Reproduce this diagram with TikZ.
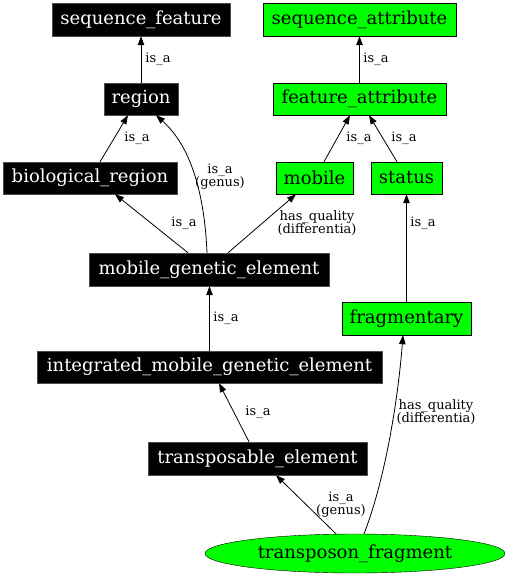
\documentclass[tikz,border=0pt]{standalone}
\usepackage{fontspec}
\setmainfont{DejaVu Serif}
\usetikzlibrary{arrows.meta,shapes.geometric}
\definecolor{vgreen}{RGB}{0,255,0}
\tikzset{
  blk/.style={rectangle, fill=black, draw=black!70, text=white, inner sep=0pt, font=\fontsize{18}{20}\selectfont},
  grn/.style={rectangle, fill=vgreen, draw=black, text=black, inner sep=0pt, font=\fontsize{18}{20}\selectfont},
  lbl/.style={inner sep=0pt, align=center, font=\fontsize{13}{13}\selectfont},
  edge/.style={draw=black, line width=0.8pt, -{Triangle[length=9pt,width=6.5pt]}},
}
\begin{document}
\begin{tikzpicture}[x=1pt,y=-1pt]
\useasboundingbox (0,0) rectangle (508,576);
% nodes
\node[blk, minimum width=178pt, minimum height=33pt] (sf) at (141,19.5) {sequence\_feature};
\node[grn, minimum width=193pt, minimum height=33pt] (sa) at (359.5,19.5) {sequence\_attribute};
\node[blk, minimum width=74pt, minimum height=32pt] (region) at (141,99) {region};
\node[grn, minimum width=173pt, minimum height=32pt] (fa) at (359.5,99) {feature\_attribute};
\node[blk, minimum width=174pt, minimum height=32pt] (bio) at (90,178) {biological\_region};
\node[grn, minimum width=77pt, minimum height=32pt] (mobile) at (314.5,178) {mobile};
\node[grn, minimum width=71pt, minimum height=32pt] (status) at (406.5,178) {status};
\node[blk, minimum width=240pt, minimum height=33pt] (mge) at (209,269.5) {mobile\_genetic\_element};
\node[grn, minimum width=129pt, minimum height=33pt] (frag) at (406.5,318.5) {fragmentary};
\node[blk, minimum width=345pt, minimum height=32pt] (imge) at (209.5,367) {integrated\_mobile\_genetic\_element};
\node[blk, minimum width=219pt, minimum height=33pt] (te) at (257.5,458.5) {transposable\_element};
\node[ellipse, fill=vgreen, draw=black, inner sep=0pt, minimum width=300pt, minimum height=39pt, font=\fontsize{18}{20}\selectfont] (tf) at (355,553.5) {transposon\_fragment};
% edges
\draw[edge] (region.north) -- (sf.south);
\draw[edge] (fa.north) -- (sa.south);
\draw[edge] ([xshift=10pt]bio.north) -- ([xshift=-13pt]region.south);
\draw[edge] ([xshift=-2pt]mge.north) .. controls (205,205) and (195,150) .. ([xshift=15pt]region.south);
\draw[edge] ([xshift=-21pt]mge.north) -- ([xshift=25pt]bio.south);
\draw[edge] ([xshift=19pt]mge.north) -- ([xshift=-18.5pt]mobile.south);
\draw[edge] ([xshift=9.5pt]mobile.north) -- ([xshift=-9.5pt]fa.south);
\draw[edge] ([xshift=-9.5pt]status.north) -- ([xshift=9.5pt]fa.south);
\draw[edge] (frag.north) -- (status.south);
\draw[edge] (imge.north) -- (imge.north |- mge.south);
\draw[edge] ([xshift=-8.5pt]te.north) -- ([xshift=9.5pt]imge.south);
\draw[edge] ([xshift=-19pt]tf.north) -- ([xshift=18.5pt]te.south);
\draw[edge] ([xshift=9pt]tf.north) .. controls (385,480) and (398,400) .. ([xshift=-3.5pt]frag.south);
% labels
\node[lbl] (l1) at (158,59) {is\_a};
\node[lbl] (l2) at (376,59) {is\_a};
\node[lbl] (l3) at (137,138) {is\_a};
\node[lbl] (l4) at (220,177) {is\_a\\(genus)};
\node[lbl] (l5) at (359,138) {is\_a};
\node[lbl] (l6) at (404,138) {is\_a};
\node[lbl] (l7) at (184,223) {is\_a};
\node[lbl] (l8) at (317,223) {has\_quality\\(differentia)};
\node[lbl] (l9) at (423,223) {is\_a};
\node[lbl] (l10) at (226,318) {is\_a};
\node[lbl] (l11) at (258,412) {is\_a};
\node[lbl] (l12) at (341,505) {is\_a\\(genus)};
\node[lbl] (l13) at (436,412) {has\_quality\\(differentia)};
\end{tikzpicture}
\end{document}
